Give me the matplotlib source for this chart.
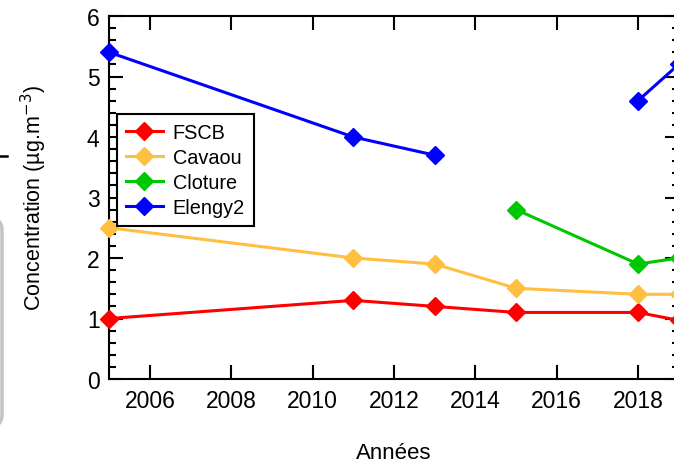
import numpy as np
import matplotlib
matplotlib.use("Agg")
import matplotlib.pyplot as plt
from matplotlib.patches import FancyBboxPatch
from matplotlib.lines import Line2D
from matplotlib.ticker import MultipleLocator

plt.rcParams['font.family'] = ['Liberation Sans', 'DejaVu Sans']
narrow = ['Liberation Sans Narrow', 'Liberation Sans', 'DejaVu Sans']
plt.rcParams['mathtext.fontset'] = 'custom'
plt.rcParams['mathtext.rm'] = 'Liberation Sans Narrow'
plt.rcParams['mathtext.it'] = 'Liberation Sans Narrow'

# annual mean concentrations per station (NaN = no measurement that year)
years = [2005, 2011, 2013, 2015, 2018, 2019]
fscb = [1.0, 1.3, 1.2, 1.1, 1.1, 0.97]
cavaou = [2.5, 2.0, 1.9, 1.5, 1.4, 1.4]
cloture = [np.nan, np.nan, np.nan, 2.8, 1.9, 2.0]
elengy2 = [5.4, 4.0, 3.7, np.nan, 4.6, 5.2]

names = ['FSCB', 'Cavaou', 'Cloture', 'Elengy2']
colors = ['#ff0000', '#ffbf40', '#00c800', '#0000ff']

W, H = 674, 464
fig = plt.figure(figsize=(W / 100, H / 100), dpi=100)
x0, x1 = 109.3, 678.7
y0, y1 = 380, 17
ax = fig.add_axes([x0 / W, 1 - y0 / H, (x1 - x0) / W, (y0 - y1) / H])

for vals, name, c in zip([fscb, cavaou, cloture, elengy2], names, colors):
    ax.plot(years, vals, color=c, lw=2.2, marker='D', ms=9,
            label=name, clip_on=False, zorder=3)

ax.set_xlim(2005, 2019)
ax.set_ylim(0, 6)
ax.xaxis.set_major_locator(MultipleLocator(2))
ax.yaxis.set_major_locator(MultipleLocator(1))
ax.yaxis.set_minor_locator(MultipleLocator(0.2))

for s in ax.spines.values():
    s.set_linewidth(1.5)
ax.tick_params(which='both', direction='in', top=True, right=True,
               width=1.5, colors='black')
ax.tick_params(which='major', length=10)
ax.tick_params(which='minor', length=5)
ax.tick_params(axis='y', pad=7)
ax.tick_params(axis='x', pad=7)
for lab in ax.get_xticklabels() + ax.get_yticklabels():
    lab.set_family(narrow)
    lab.set_fontsize(16.5)

ax.set_xlabel('Années', fontsize=16, family=narrow, labelpad=22)
ax.set_ylabel(r'Concentration (µg.m$^{-3}$)', fontsize=15.5, family=narrow)
ax.yaxis.set_label_coords(-60 / (x1 - x0), 0.5)

handles = [Line2D([], [], color=c, lw=2.2, marker='D', ms=9) for c in colors]
leg = ax.legend(handles, names, loc='upper left',
                bbox_to_anchor=((117 - x0) / (x1 - x0), (y0 - 115) / (y0 - y1)),
                prop={'family': 'Liberation Sans', 'size': 14.3},
                frameon=True, fancybox=False, framealpha=1,
                edgecolor='black', borderaxespad=0, handlelength=1.85,
                handletextpad=0.5, labelspacing=0.3, borderpad=0.45)
leg.get_frame().set_linewidth(1.5)

# bits of the neighbouring panel along the left edge
fig.add_artist(Line2D([0, 7 / W], [1 - 157 / H, 1 - 157 / H],
                      color='black', lw=1.8, transform=fig.transFigure))
fig.add_artist(FancyBboxPatch((-60 / W, 1 - 430 / H), 62 / W, 213 / H,
                              boxstyle='round,pad=0,rounding_size=0.03',
                              transform=fig.transFigure, facecolor='none',
                              edgecolor='#c4c4c4', lw=2.5))

fig.savefig('out.png', dpi=100)
